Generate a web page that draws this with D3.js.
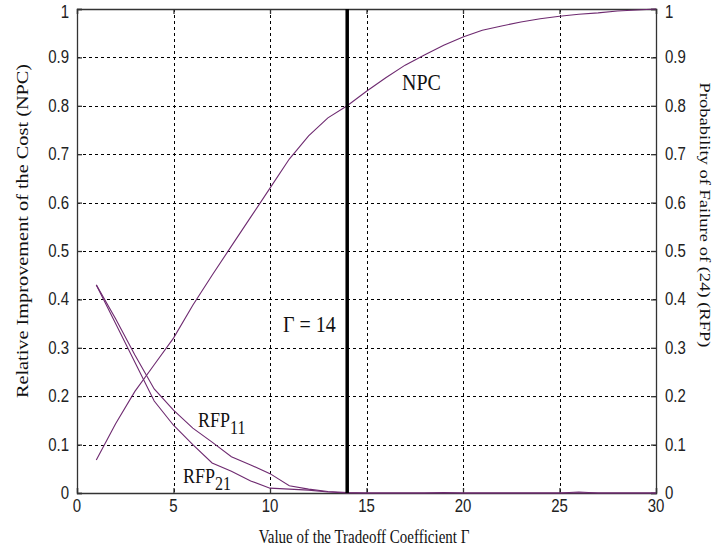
<!DOCTYPE html>
<html lang="en">
<head>
<meta charset="utf-8">
<title>NPC and RFP versus Gamma</title>
<script src="https://d3js.org/d3.v7.min.js"></script>
<style>
  body { margin: 0; background: #fff; }
  .tick-label { font-family: "Liberation Sans", Arial, sans-serif; font-size: 15px; fill: #222; }
  .serif { font-family: "Liberation Serif", "Times New Roman", serif; fill: #111; }
</style>
</head>
<body>
<div id="chart"></div>
<script>
const width = 719
const height = 554

// data
const gamma = [1, 2, 3, 4, 5, 6, 7, 8, 9, 10, 11, 12, 13, 14, 15, 16, 17, 18, 19, 20, 21, 22, 23, 24, 25, 26, 27, 28, 29, 30]
const npc = [0.068, 0.143, 0.21, 0.265, 0.32, 0.388, 0.45, 0.51, 0.57, 0.63, 0.69, 0.738, 0.775, 0.80, 0.83, 0.858, 0.884, 0.905, 0.925, 0.942, 0.956, 0.965, 0.973, 0.98, 0.985, 0.989, 0.992, 0.996, 0.998, 1.0]
const rfp11 = [0.43, 0.36, 0.285, 0.215, 0.171, 0.134, 0.105, 0.075, 0.058, 0.04, 0.015, 0.008, 0.003, 0.001, 0, 0, 0, 0, 0.001, 0, 0, 0, 0, 0, 0, 0.002, 0, 0, 0, 0]
const rfp21 = [0.43, 0.35, 0.27, 0.19, 0.14, 0.10, 0.062, 0.045, 0.025, 0.01, 0.008, 0.006, 0.002, 0, 0, 0, 0, 0, 0, 0, 0, 0, 0, 0, 0, 0, 0, 0, 0, 0]
const gammaChosen = 14

const xTicks = [0, 5, 10, 15, 20, 25, 30]
const yTicks = [0, 0.1, 0.2, 0.3, 0.4, 0.5, 0.6, 0.7, 0.8, 0.9, 1]
const yTickLabels = ['0', '0.1', '0.2', '0.3', '0.4', '0.5', '0.6', '0.7', '0.8', '0.9', '1']

const margin = { left: 77, right: 63, top: 9, bottom: 61 }
const curveColor = '#6e2a70'
const sy = 1.27 // the picture is stretched vertically

const svg = d3.select('#chart').append('svg')
    .attr('width', width)
    .attr('height', height)

const x = d3.scaleLinear().domain([0, 30]).range([margin.left, width - margin.right])
const y = d3.scaleLinear().domain([0, 1]).range([height - margin.bottom, margin.top])

const x0 = x.range()[0], x1 = x.range()[1]
const y0 = y.range()[0], y1 = y.range()[1]

// stretched text helper
function label(g, px, py, str, cls, size, anchor, scaleY, rot) {
    const t = g.append('text')
        .attr('class', cls)
        .attr('font-size', size + 'px')
        .attr('text-anchor', anchor)
        .attr('transform', `translate(${px},${py}) scale(1,${scaleY})` + (rot ? ` rotate(${rot})` : ''))
    t.text(str)
    return t
}

// grid
const grid = svg.append('g')
    .attr('stroke', '#000')
    .attr('stroke-width', 1)
    .attr('stroke-dasharray', '3,3')
grid.selectAll('line.gx')
    .data(xTicks.slice(1, -1))
    .join('line')
    .attr('x1', d => Math.round(x(d)) + 0.5).attr('x2', d => Math.round(x(d)) + 0.5)
    .attr('y1', y1).attr('y2', y0)
grid.selectAll('line.gy')
    .data(yTicks.slice(1, -1))
    .join('line')
    .attr('class', 'gy')
    .attr('x1', x0).attr('x2', x1)
    .attr('y1', d => Math.round(y(d)) + 0.5).attr('y2', d => Math.round(y(d)) + 0.5)

// axes with inward ticks
const axisColor = '#333'
const bottomAxis = svg.append('g')
    .attr('transform', `translate(0,${y0})`)
    .call(d3.axisBottom(x).tickValues(xTicks).tickSize(-5).tickFormat(''))
const topAxis = svg.append('g')
    .attr('transform', `translate(0,${y1})`)
    .call(d3.axisTop(x).tickValues(xTicks).tickSize(-5).tickFormat(''))
const leftAxis = svg.append('g')
    .attr('transform', `translate(${x0},0)`)
    .call(d3.axisLeft(y).tickValues(yTicks).tickSize(-5).tickFormat(''))
const rightAxis = svg.append('g')
    .attr('transform', `translate(${x1},0)`)
    .call(d3.axisRight(y).tickValues(yTicks).tickSize(-5).tickFormat(''))
;[bottomAxis, topAxis, leftAxis, rightAxis].forEach(a => {
    a.selectAll('path, line').attr('stroke', axisColor).attr('stroke-width', 1.3)
})

// tick labels
const tl = svg.append('g')
xTicks.forEach(d => label(tl, x(d), y0 + 19, String(d), 'tick-label', 15, 'middle', sy))
yTicks.forEach((d, i) => {
    const dy = d === 1 ? 9 : 6
    label(tl, x0 - 8, y(d) + dy, yTickLabels[i], 'tick-label', 15, 'end', sy)
    label(tl, x1 + 9, y(d) + dy, yTickLabels[i], 'tick-label', 15, 'start', sy)
})

// curves
const line = d3.line().x((d, i) => x(gamma[i])).y(d => y(d))
svg.append('g').selectAll('path')
    .data([npc, rfp11, rfp21])
    .join('path')
    .attr('d', d => line(d))
    .attr('fill', 'none')
    .attr('stroke', curveColor)
    .attr('stroke-width', 1.1)

// chosen gamma
svg.append('line')
    .attr('x1', x(gammaChosen)).attr('x2', x(gammaChosen))
    .attr('y1', y(1)).attr('y2', y(0))
    .attr('stroke', '#000')
    .attr('stroke-width', 3.5)

// annotations
const ann = svg.append('g')
label(ann, 402, 90, 'NPC', 'serif', 20, 'start', 1.15)
label(ann, 283, 332, 'Γ = 14', 'serif', 20, 'start', 1.15)
const r11 = label(ann, 198, 427, 'RFP', 'serif', 18, 'start', 1.15)
r11.append('tspan').attr('dy', 6).attr('font-size', '16px').text('11')
const r21 = label(ann, 183, 483, 'RFP', 'serif', 18, 'start', 1.15)
r21.append('tspan').attr('dy', 6).attr('font-size', '16px').text('21')

// axis titles
label(svg, 364, 543, 'Value of the Tradeoff Coefficient Γ', 'serif', 15, 'middle', sy)
label(svg, 28, 231, 'Relative Improvement of the Cost (NPC)', 'serif', 16, 'middle', sy, -90)
label(svg, 700, 215, 'Probability of Failure of (24) (RFP)', 'serif', 14.6, 'middle', sy, 90)
</script>
</body>
</html>
